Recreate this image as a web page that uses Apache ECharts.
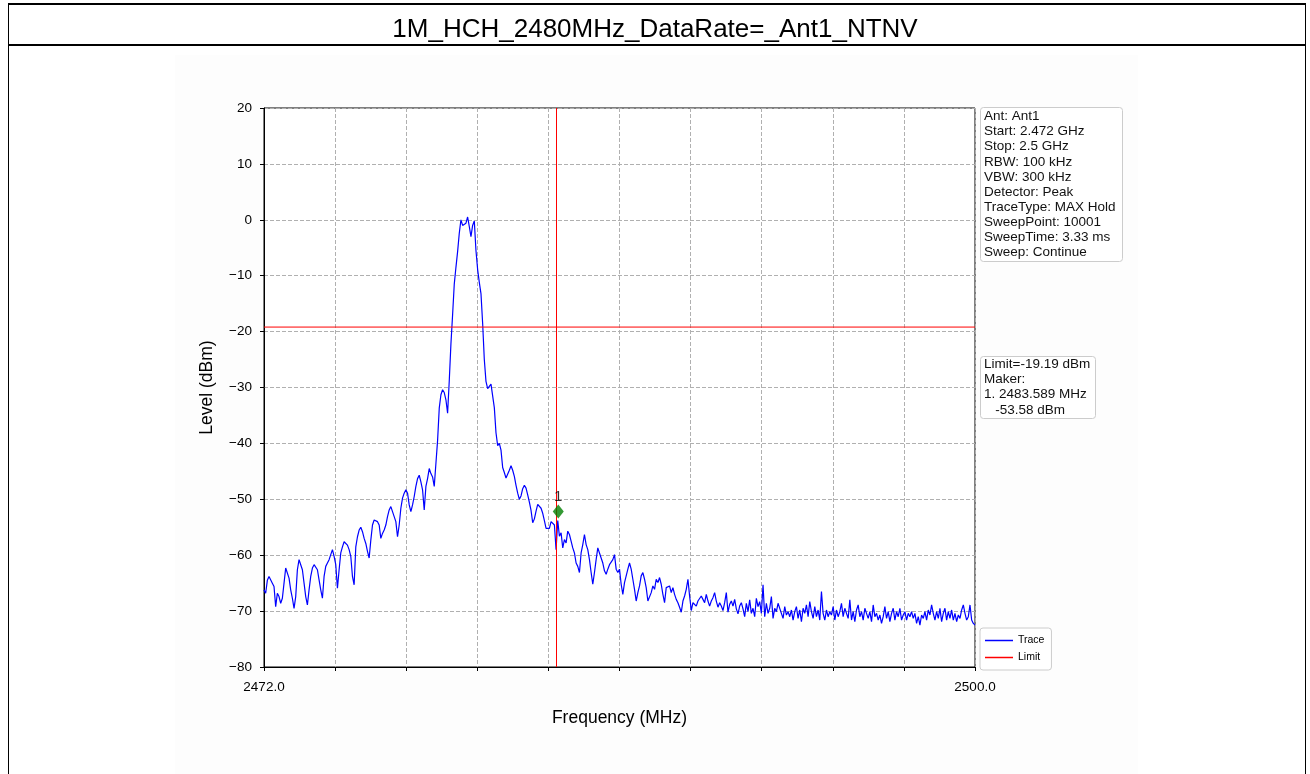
<!DOCTYPE html>
<html>
<head>
<meta charset="utf-8">
<script src="https://cdn.jsdelivr.net/npm/echarts@6/dist/echarts.min.js"></script>
<style>
html,body{margin:0;padding:0;background:#fff;}
#c{width:1310px;height:774px;}
</style>
</head>
<body>
<div id="c"></div>
<script>
// ---------------- data ----------------
const chartTitle = '1M_HCH_2480MHz_DataRate=_Ant1_NTNV';
const sweepStart = 2472.0;   // MHz
const sweepStop = 2500.0;    // MHz
const yTicks = [-80, -70, -60, -50, -40, -30, -20, -10, 0, 10, 20];
const xTickLabels = ['2472.0', '', '', '', '', '', '', '', '', '', '2500.0'];
const limitLevel = -19.19;       // dBm
const bandEdgeFreq = 2483.5;     // MHz
const markerFreq = 2483.589;     // MHz
const markerLevel = -52.2;       // dBm (as drawn)
const markerLabel = '1';
const infoLines = ['Ant: Ant1', 'Start: 2.472 GHz', 'Stop: 2.5 GHz', 'RBW: 100 kHz', 'VBW: 300 kHz',
  'Detector: Peak', 'TraceType: MAX Hold', 'SweepPoint: 10001', 'SweepTime: 3.33 ms', 'Sweep: Continue'];
const markerLines = ['Limit=-19.19 dBm', 'Maker:', '1. 2483.589 MHz', '   -53.58 dBm'];

// trace levels (dBm), evenly spaced over the sweep
const traceLevel = [
 -66.2,-66.8,-64.5,-63.8,-63.5,-65,-65.6,-69.2,-66.8,-67.4,
 -68.6,-67.7,-65,-62.3,-62.6,-64.1,-66.2,-67.7,-69.5,-67.4,
 -62.6,-60.8,-61.7,-62.6,-65,-67.4,-68.9,-66.2,-63.8,-62.3,
 -61.7,-62,-62.6,-64.4,-66.2,-67.7,-63.8,-62,-61.4,-60.8,
 -59.9,-59,-60.2,-61.7,-65.9,-62.6,-59.6,-58.5,-57.6,-57.3,
 -58.2,-59,-60.2,-63.8,-65.3,-58.5,-56.7,-55.5,-55,-55.8,
 -57,-57.9,-59.3,-60.5,-57.3,-54.6,-53.7,-53.4,-54,-54.6,
 -57,-56.1,-55.5,-54.6,-53.1,-51.9,-51.3,-52.2,-53.1,-54,
 -56.7,-54.6,-51.6,-49.8,-48.9,-48.3,-48.9,-51,-52.2,-51,
 -49.5,-47.7,-46.3,-45.7,-46.9,-48.3,-51.9,-47.7,-46.3,-44.5,
 -45.4,-46,-47.7,-43.6,-39.5,
 -33.7,-31.3,-30.4,-30.9,-32.2,-34.6,-28.8,-22.2,-17,-11.5,
 -8.5,-5.7,-2.4,0,-1.0,-1.2,-0.6,0.5,-1.2,-3.0,
 -1.0,-0.2,-5.5,-8.9,-11.2,-13.2,-18.5,-25,-28.9,-30.2,
 -30.1,-29.4,-29.7,-33.6,-38.1,-40.4,-40,-41.2,-44.3,-45.2,
 -46.2,-46,-44.8,-44,-44.8,-45.9,-47.5,-48.9,-50,-49.4,
 -48.1,-47.5,-48,-49.2,-50.5,-52,-54.2,-53.5,-52.1,-50.9,
 -50.6,-51.6,-52.5,-53.8,-55.2,-55.1,-55.2,
 -54,-54.3,-54.6,-59,-53.8,-56.6,-56,-58.7,-57.2,-57.8,
 -55.7,-56.3,-57.5,-58.7,-59.6,-61.4,-62,-63.1,-59.6,-58.1,
 -56.3,-58.1,-59,-60.8,-63.1,-65.2,-63.1,-60.8,-58.7,-59.6,
 -60.5,-61.4,-62.8,-63.4,-62.5,-61.7,-61.4,-60.8,-59.9,-62.5,
 -63.1,-62.5,-65.2,-67,-64.9,-63.7,-62.5,-61.4,-62.5,-64.3,
 -66.1,-68.2,-66.7,-65.5,-63.7,-63.1,-64.3,-65.8,-68.2,-68.5,
 -66.7,-65.5,-66.1,-64.3,-64.9,-64,-65.2,-67,-68.5,-65.8,
 -66.1,-65.5,-66.7,-65.8,-67,-67.9,-68.5,-69.3,-70.2,-68.2,
 -67.3,-66.1,-64.3,-67.3,-69.9,-68.5,-68.2,-69.1,-68.2,-68.5,
 -67.3,-67.9,-68.5,-67,-68.2,-69.1,-68.2,-67.6,-66.7,-68.2,
 -69.3,-68.5,-69.1,-69.9,-68.5,-66.7,-70.2,-68.8,-68.2,-69.1,
 -67.9,-69.6,-70.5,-69.1,-68.5,-69.6,
 -71,-68.6,-70.1,-68,-70.4,-69.5,-71,-67.7,-69.2,-68.3,
 -70.4,-65.3,-71,-68.6,-70.4,-69.5,-67.4,-71.3,-69.5,-70.1,
 -68.6,-68.3,-70.4,-71.3,-69.2,-70.7,-70.1,-71,-69.8,-71.6,
 -70.1,-69.2,-71.3,-69.8,-71.9,-69.5,-70.4,-68.9,-71,-68.3,
 -70.1,-71.3,-69.2,-71,-69.8,-71.6,-66.5,-70.4,-71.6,-69.8,
 -71,-70.1,-70.7,-69.2,-71.6,-69.8,-71,-70.1,-68.6,-71,
 -69.5,-70.4,-71.3,-68,-71.6,-70.1,-71.9,-69.8,-68.9,-71,
 -70.1,-71.6,-69.5,-70.4,-71.3,-70.1,-71.9,-68.9,-71,-70.4,
 -71.6,-70.7,-72.2,-71,-69.2,-71.3,-70.1,-71.9,-70.4,-69.5,
 -71.6,-70.1,-71,-69.5,-71.6,-70.7,-70.1,-71.6,-70.4,-71,
 -70.1,-71.3,-70.4,-72.2,-71,-72.5,-70.7,-71.3,-70.1,-71.6,
 -69.8,-70.7,-68.9,-70.4,-71.6,-70.1,-71.3,-69.5,-71.9,-70.4,
 -69.5,-71.6,-70.1,-71.3,-69.8,-71.6,-70.4,-71.9,-70.7,-71.3,
 -69.8,-68.9,-70.4,-71.6,-71,-68.9,-71.6,-72.2,-72.5
];

// ---------------- chart ----------------
const FONT = 'Liberation Sans, Arial, sans-serif';
const n = traceLevel.length;
const traceData = traceLevel.map((v, i) => [sweepStart + (sweepStop - sweepStart) * i / (n - 1), v]);

const chart = echarts.init(document.getElementById('c'), null, {renderer: 'canvas', width: 1310, height: 774});

const option = {
  animation: false,
  backgroundColor: '#ffffff',
  textStyle: {fontFamily: FONT},
  title: {
    text: chartTitle, left: 'center', top: 12,
    textStyle: {fontFamily: FONT, fontSize: 26, fontWeight: 'normal', color: '#000'}
  },
  graphic: [
    {type: 'rect', z: -10, silent: true, shape: {x: 175, y: 55, width: 963, height: 719}, style: {fill: '#fdfdfd'}},
    {type: 'line', silent: true, shape: {x1: 8, y1: 4, x2: 1306, y2: 4}, style: {stroke: '#000', lineWidth: 2}},
    {type: 'line', silent: true, shape: {x1: 8, y1: 45, x2: 1306, y2: 45}, style: {stroke: '#000', lineWidth: 2}},
    {type: 'line', silent: true, shape: {x1: 8.5, y1: 4, x2: 8.5, y2: 774}, style: {stroke: '#000', lineWidth: 1}},
    {type: 'line', silent: true, shape: {x1: 1305.5, y1: 4, x2: 1305.5, y2: 774}, style: {stroke: '#000', lineWidth: 1}},
    {type: 'rect', silent: true, shape: {x: 980.5, y: 107.5, width: 142, height: 154, r: 3},
      style: {fill: '#fff', stroke: '#cccccc', lineWidth: 1}},
    {type: 'text', silent: true, x: 984, y: 109,
      style: {text: infoLines.join('\n'), font: '13.5px ' + FONT, lineHeight: 15.1, fill: '#111'}},
    {type: 'rect', silent: true, shape: {x: 980.5, y: 356.5, width: 115, height: 62, r: 3},
      style: {fill: '#fff', stroke: '#cccccc', lineWidth: 1}},
    {type: 'text', silent: true, x: 984, y: 357,
      style: {text: markerLines.join('\n'), font: '13.5px ' + FONT, lineHeight: 15.1, fill: '#111'}}
  ],
  legend: {
    data: [{name: 'Trace', icon: 'rect'}, {name: 'Limit', icon: 'rect'}],
    orient: 'vertical', left: 980, top: 628,
    itemWidth: 28, itemHeight: 1.5, itemGap: 6,
    padding: [7, 7, 7, 5],
    borderColor: '#cccccc', borderWidth: 1, borderRadius: 3, backgroundColor: '#fff',
    textStyle: {fontFamily: FONT, fontSize: 10.5, color: '#000'}
  },
  grid: {
    left: 264, top: 108, width: 711, height: 559,
    show: true, borderColor: '#000', borderWidth: 1, backgroundColor: '#fff', containLabel: false
  },
  xAxis: [
    {
      type: 'value', min: 0, max: 10, interval: 1, position: 'bottom',
      axisLine: {show: true, onZero: false, lineStyle: {color: '#000', width: 1}},
      axisTick: {show: true, length: 4, lineStyle: {color: '#000'}},
      axisLabel: {show: true, margin: 13, fontSize: 13.5, color: '#000', fontFamily: FONT,
        formatter: v => xTickLabels[Math.round(v)] || ''},
      splitLine: {show: true, lineStyle: {color: '#b0b0b0', type: [4, 2], width: 1}},
      name: 'Frequency (MHz)', nameLocation: 'middle', nameGap: 42,
      nameTextStyle: {fontSize: 17.5, color: '#000', fontFamily: FONT}
    },
    {type: 'value', min: sweepStart, max: sweepStop, show: false}
  ],
  yAxis: {
    type: 'value', min: yTicks[0], max: yTicks[yTicks.length - 1], interval: 10,
    axisLine: {show: true, onZero: false, lineStyle: {color: '#000', width: 1}},
    axisTick: {show: true, length: 4, lineStyle: {color: '#000'}},
    axisLabel: {margin: 12, fontSize: 13.5, color: '#000', fontFamily: FONT,
      formatter: v => String(v).replace('-', '\u2212')},
    splitLine: {show: true, lineStyle: {color: '#b0b0b0', type: [4, 2], width: 1}},
    name: 'Level (dBm)', nameLocation: 'middle', nameGap: 48, nameRotate: 90,
    nameTextStyle: {fontSize: 17.5, color: '#000', fontFamily: FONT}
  },
  series: [
    {
      name: 'Trace', type: 'line', xAxisIndex: 1, data: traceData,
      showSymbol: false, symbol: 'none', z: 2,
      itemStyle: {color: '#0000ff'},
      lineStyle: {color: '#0000ff', width: 1.2}
    },
    {
      name: 'Limit', type: 'line', xAxisIndex: 1, z: 3,
      data: [[sweepStart, limitLevel], [sweepStop, limitLevel]],
      showSymbol: false, symbol: 'none',
      itemStyle: {color: '#ff0000'},
      lineStyle: {color: '#ff0000', width: 1},
      markLine: {
        silent: true, symbol: 'none', label: {show: false},
        lineStyle: {color: '#ff0000', width: 1, type: 'solid'},
        data: [{xAxis: bandEdgeFreq}]
      }
    },
    {
      name: 'Marker', type: 'scatter', xAxisIndex: 1, z: 5,
      data: [[markerFreq, markerLevel]],
      symbol: 'diamond', symbolSize: [11, 14],
      itemStyle: {color: '#007f00'},
      label: {show: true, position: 'top', distance: 0, formatter: markerLabel,
        fontSize: 15, color: '#000', fontFamily: FONT}
    }
  ]
};
chart.setOption(option);
</script>
</body>
</html>
